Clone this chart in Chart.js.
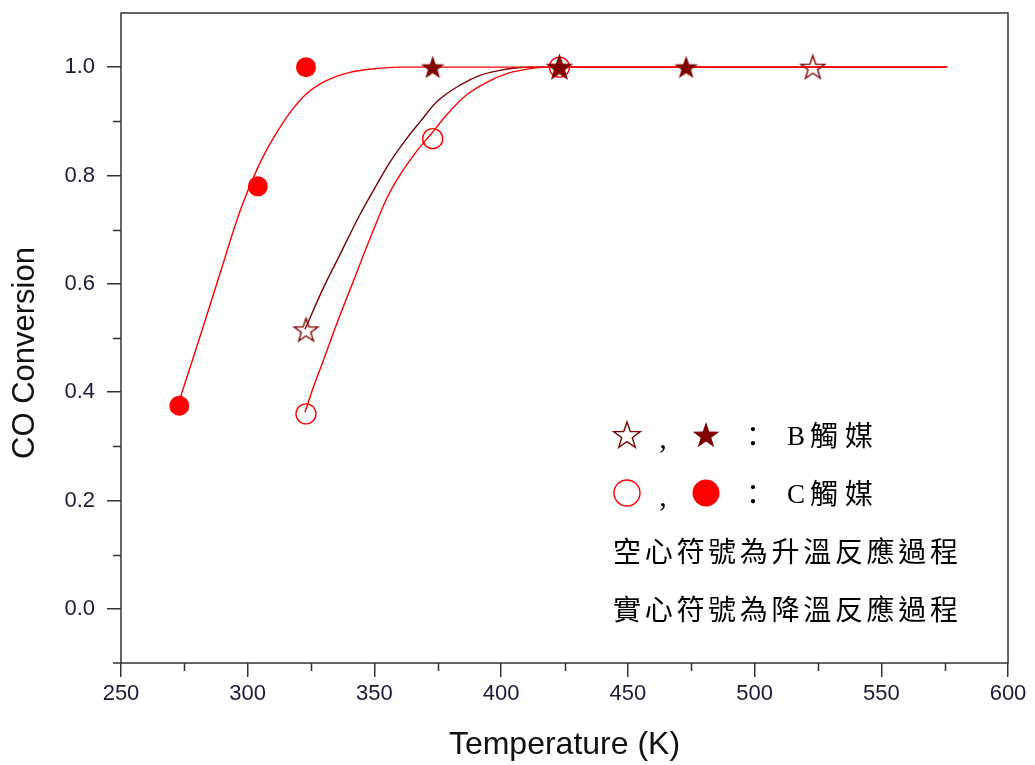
<!DOCTYPE html>
<html>
<head>
<meta charset="utf-8">
<script src="https://cdn.jsdelivr.net/npm/chart.js@4.4.0/dist/chart.umd.min.js"></script>
<style>
  html, body { margin: 0; padding: 0; background: #fff; }
  #wrap { width: 1035px; height: 765px; position: relative; }
</style>
</head>
<body>
<div id="wrap"><canvas id="myChart"></canvas></div>
<script>
// measured points (T in K, CO conversion)
var cDownT = [273, 304, 323];
var cDownY = [0.375, 0.78, 1.0];
var bDownT = [373, 423, 473];
var bDownY = [1.0, 1.0, 1.0];
var cUpT = [323, 373, 423];
var cUpY = [0.36, 0.868, 1.0];
var bUpT = [323, 423, 523];
var bUpY = [0.515, 1.0, 1.0];

// fitted curves
var cDownFitT = [272.5, 281, 289, 297, 304, 310, 317, 323, 331, 340, 350, 360, 576];
var cDownFitY = [0.377, 0.50, 0.618, 0.735, 0.815, 0.868, 0.918, 0.950, 0.975, 0.990, 0.997, 1.0, 1.0];
var bUpFitT = [322.6, 329.8, 336.4, 344.3, 350.9, 356.2, 362.7, 368, 374.6, 383.8, 391.7, 399.6, 404.7, 412, 576];
var bUpFitY = [0.516, 0.592, 0.654, 0.728, 0.783, 0.825, 0.868, 0.899, 0.936, 0.967, 0.985, 0.994, 0.998, 1.0, 1.0];
var cUpFitT = [322.6, 325.9, 329.8, 335.1, 341.7, 348.3, 354.9, 360.1, 366.7, 372.6, 378.5, 386.4, 394.3, 402.2, 408.6, 418, 576];
var cUpFitY = [0.363, 0.409, 0.458, 0.526, 0.605, 0.684, 0.758, 0.801, 0.845, 0.878, 0.912, 0.949, 0.972, 0.988, 0.995, 1.0, 1.0];

// axes
var xTicks = [250, 300, 350, 400, 450, 500, 550, 600];
var xMinor = [275, 325, 375, 425, 475, 525, 575];
var yTicks = [0, 0.2, 0.4, 0.6, 0.8, 1.0];
var yMinor = [0.1, 0.3, 0.5, 0.7, 0.9];
var xTitle = 'Temperature (K)';
var yTitle = 'CO Conversion';

// legend text
var legendB = 'B';
var legendC = 'C';
var catalyst = '觸媒';
var noteUp = '空心符號為升溫反應過程';
var noteDown = '實心符號為降溫反應過程';

var RED = '#ff0000';
var DARK = '#800000';

function pts(t, y) {
  return t.map(function(v, i) { return {x: v, y: y[i]}; });
}

function starPath(ctx, cx, cy, r) {
  var ri = r * 0.4;
  ctx.beginPath();
  for (var i = 0; i < 10; i++) {
    var rad = i % 2 === 0 ? r : ri;
    var a = -Math.PI / 2 + i * Math.PI / 5;
    var px = cx + rad * Math.cos(a), py = cy + rad * Math.sin(a);
    if (i === 0) ctx.moveTo(px, py); else ctx.lineTo(px, py);
  }
  ctx.closePath();
}

function drawStar(ctx, cx, cy, r, filled) {
  starPath(ctx, cx, cy, r);
  if (filled) {
    ctx.fillStyle = DARK;
    ctx.fill();
  } else {
    ctx.strokeStyle = DARK;
    ctx.lineWidth = 1.4;
    ctx.stroke();
  }
}

function starImage(r, filled) {
  var c = document.createElement('canvas');
  c.width = c.height = Math.ceil(r * 2 + 4);
  drawStar(c.getContext('2d'), c.width / 2, c.height / 2 + 1, r, filled);
  return c;
}

var openStar = starImage(12.5, false);
var fullStar = starImage(12.5, true);

function spaced(ctx, text, x, y, pitch) {
  for (var i = 0; i < text.length; i++) ctx.fillText(text[i], x + i * pitch, y);
}

var frame = {
  id: 'frame',
  afterDraw: function(chart) {
    var ctx = chart.ctx, a = chart.chartArea;
    var xs = chart.scales.x, ys = chart.scales.y;
    ctx.save();
    ctx.strokeStyle = '#333';
    ctx.lineWidth = 1.5;
    ctx.strokeRect(a.left, a.top, a.right - a.left, a.bottom - a.top);
    ctx.beginPath();
    // x axis line pokes a little past the y axis, as in the original
    ctx.moveTo(a.left - 8, a.bottom); ctx.lineTo(a.left, a.bottom);
    xMinor.forEach(function(v) {
      var px = Math.round(xs.getPixelForValue(v)) + 0.5;
      ctx.moveTo(px, a.bottom); ctx.lineTo(px, a.bottom + 8);
    });
    yMinor.forEach(function(v) {
      var py = Math.round(ys.getPixelForValue(v)) + 0.5;
      ctx.moveTo(a.left, py); ctx.lineTo(a.left - 8, py);
    });
    ctx.stroke();

    // y axis title, placed like the original (not centred on the axis)
    ctx.save();
    ctx.translate(25, 353);
    ctx.rotate(-Math.PI / 2);
    ctx.fillStyle = '#111';
    ctx.font = '31px "Liberation Sans", Arial';
    ctx.textAlign = 'center';
    ctx.textBaseline = 'middle';
    ctx.fillText(yTitle, 0, 0);
    ctx.restore();

    // legend block
    drawStar(ctx, 627, 436, 14, false);
    drawStar(ctx, 706, 436, 14, true);
    ctx.beginPath(); ctx.arc(627, 493, 13, 0, Math.PI * 2);
    ctx.strokeStyle = RED; ctx.lineWidth = 1.4; ctx.stroke();
    ctx.beginPath(); ctx.arc(706, 493, 13.5, 0, Math.PI * 2);
    ctx.fillStyle = RED; ctx.fill();

    ctx.fillStyle = '#000';
    ctx.textBaseline = 'middle';
    ctx.textAlign = 'center';
    ctx.font = '30px "Liberation Serif"';
    ctx.fillText(',', 663, 440);
    ctx.fillText(',', 663, 498);
    ctx.font = '28px "Noto Sans CJK TC"';
    ctx.fillText('：', 753, 436);
    ctx.fillText('：', 753, 494);
    ctx.textAlign = 'left';
    ctx.font = '27px "Liberation Serif"';
    ctx.fillText(legendB, 787, 438);
    ctx.fillText(legendC, 787, 496);
    ctx.font = '28px "Noto Sans CJK TC"';
    spaced(ctx, catalyst, 810, 435, 35);
    spaced(ctx, catalyst, 810, 493, 35);
    spaced(ctx, noteUp, 613, 551, 31.7);
    spaced(ctx, noteDown, 613, 609, 31.7);
    ctx.restore();
  }
};

var myChartObject = document.getElementById('myChart');
var chart = new Chart(myChartObject, {
  type: 'scatter',
  data: {
    datasets: [
      { data: pts(bDownT, bDownY), pointStyle: fullStar, pointRadius: 12, showLine: false },
      { data: pts(bUpT, bUpY), pointStyle: openStar, pointRadius: 12, showLine: false },
      { data: pts(cUpT, cUpY), pointStyle: 'circle', pointRadius: 10, borderColor: RED,
        backgroundColor: 'rgba(0,0,0,0)', borderWidth: 1.4, showLine: false },
      { data: pts(cDownT, cDownY), pointStyle: 'circle', pointRadius: 10, borderColor: RED,
        backgroundColor: RED, borderWidth: 0, showLine: false },
      { data: pts(cUpFitT, cUpFitY), showLine: true, pointRadius: 0, borderColor: RED,
        borderWidth: 1.4, cubicInterpolationMode: 'monotone' },
      { data: pts(cDownFitT, cDownFitY), showLine: true, pointRadius: 0, borderColor: RED,
        borderWidth: 1.4, cubicInterpolationMode: 'monotone' },
      { data: pts(bUpFitT, bUpFitY), showLine: true, pointRadius: 0, borderColor: DARK,
        borderWidth: 1.4, cubicInterpolationMode: 'monotone' }
    ]
  },
  options: {
    responsive: true,
    maintainAspectRatio: false,
    animation: false,
    layout: { padding: { top: 10, right: 27, left: 0, bottom: 0 } },
    plugins: { legend: { display: false }, tooltip: { enabled: false } },
    scales: {
      x: {
        type: 'linear',
        min: 250,
        max: 600,
        afterBuildTicks: function(s) { s.ticks = xTicks.map(function(v) { return {value: v}; }); },
        afterFit: function(s) { s.height = 102; },
        grid: { drawOnChartArea: false, drawTicks: true, tickLength: 14, color: '#333', lineWidth: 1.5 },
        border: { display: false },
        ticks: { color: '#1a1a3a', padding: 4, maxRotation: 0,
                 font: { family: '"Liberation Sans", Arial', size: 22 } },
        title: { display: true, text: xTitle, color: '#111', padding: { top: 4, bottom: 1 },
                 font: { family: '"Liberation Sans", Arial', size: 32 } }
      },
      y: {
        type: 'linear',
        min: -0.1,
        max: 1.1,
        afterBuildTicks: function(s) { s.ticks = yTicks.map(function(v) { return {value: v}; }); },
        afterFit: function(s) { s.width = 121; s.paddingTop = 0; s.paddingBottom = 0; },
        grid: { drawOnChartArea: false, drawTicks: true, tickLength: 14, color: '#333', lineWidth: 1.5 },
        border: { display: false },
        ticks: { color: '#1a1a3a', padding: 12,
                 callback: function(v) { return v.toFixed(1); },
                 font: { family: '"Liberation Sans", Arial', size: 22, lineHeight: 0.85 } },
        title: { display: false }
      }
    }
  },
  plugins: [frame]
});
</script>
</body>
</html>
